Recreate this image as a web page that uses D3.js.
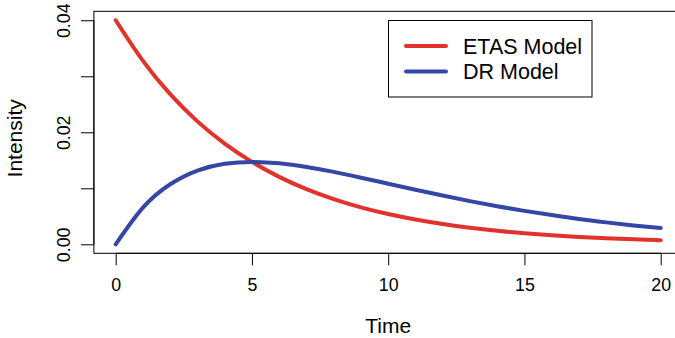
<!DOCTYPE html>
<html>
<head>
<meta charset="utf-8">
<script src="https://cdn.jsdelivr.net/npm/d3@7"></script>
<style>
  html, body { margin: 0; padding: 0; background: #fff; }
  svg { display: block; font-family: "Liberation Sans", Arial, Helvetica, sans-serif; }
</style>
</head>
<body>
<svg id="chart" width="675" height="338"></svg>
<script>
// Time grid and model intensities
const time = [0, 1, 2, 3, 4, 5, 6, 7, 8, 9, 10, 11, 12, 13, 14, 15, 16, 17, 18, 19, 20];
const etas = [0.0400, 0.03275, 0.02681, 0.02195, 0.01797, 0.01472, 0.01205, 0.00986, 0.00808, 0.00661,
              0.00541, 0.00443, 0.00363, 0.00297, 0.00243, 0.00199, 0.00163, 0.00133, 0.00109, 0.00089, 0.00073];
const dr   = [0.0000, 0.00655, 0.01072, 0.01317, 0.01438, 0.01472, 0.01446, 0.01380, 0.01293, 0.01190,
              0.01082, 0.00975, 0.00871, 0.00772, 0.00680, 0.00597, 0.00522, 0.00452, 0.00392, 0.00338, 0.00292];
const seriesNames = ["ETAS Model", "DR Model"];
const seriesColors = ["#e1332b", "#3447a5"];
const xTicks = [0, 5, 10, 15, 20];
const yTicks = [0, 0.01, 0.02, 0.03, 0.04];
const yTickLabels = ["0.00", "", "0.02", "", "0.04"];

const svg = d3.select("#chart");

// Plot region with 4% padding on both axes
const x = d3.scaleLinear().domain([-0.8, 20.8]).range([93.9, 682.5]);
const y = d3.scaleLinear().domain([-0.0016, 0.0416]).range([253.3, 11.3]);

// Frame
svg.append("rect")
  .attr("x", x(-0.8)).attr("y", y(0.0416))
  .attr("width", x(20.8) - x(-0.8)).attr("height", y(-0.0016) - y(0.0416))
  .attr("fill", "none").attr("stroke", "#000").attr("stroke-width", 1);

// X axis
const xAxis = svg.append("g").attr("transform", `translate(0,${y(-0.0016)})`)
  .call(d3.axisBottom(x).tickValues(xTicks).tickSize(12).tickPadding(13).tickFormat(d3.format("d")));
xAxis.select(".domain").attr("d", `M${x(0)},0H${x(20)}`).attr("stroke", "#000");
xAxis.selectAll(".tick line").attr("stroke", "#000");
xAxis.selectAll(".tick text").attr("font-size", 17.8).attr("fill", "#000")
  .attr("font-family", "Liberation Sans, Arial, sans-serif");

// Y axis with labels running parallel to the axis
const yAxis = svg.append("g").attr("transform", `translate(${x(-0.8)},0)`)
  .call(d3.axisLeft(y).tickValues(yTicks).tickSize(13).tickFormat((d, i) => yTickLabels[i]));
yAxis.select(".domain").attr("d", `M0,${y(0)}V${y(0.04)}`).attr("stroke", "#000");
yAxis.selectAll(".tick line").attr("stroke", "#000");
yAxis.selectAll(".tick text")
  .attr("font-size", 17.8).attr("fill", "#000")
  .attr("font-family", "Liberation Sans, Arial, sans-serif")
  .attr("x", null).attr("dy", null)
  .attr("text-anchor", "middle")
  .attr("transform", "translate(-24,0) rotate(-90)");

// Axis titles
svg.append("text")
  .attr("x", (x(-0.8) + x(20.8)) / 2).attr("y", 333)
  .attr("text-anchor", "middle").attr("font-size", 21).attr("fill", "#000")
  .text("Time");
svg.append("text")
  .attr("transform", `translate(22,${(y(-0.0016) + y(0.0416)) / 2 + 6}) rotate(-90)`)
  .attr("text-anchor", "middle").attr("font-size", 21).attr("fill", "#000")
  .text("Intensity");

// Curves
const line = d3.line().x((d, i) => x(time[i])).y(d => y(d)).curve(d3.curveNatural);
[etas, dr].forEach((vals, k) => {
  svg.append("path")
    .attr("d", line(vals))
    .attr("fill", "none")
    .attr("stroke", seriesColors[k])
    .attr("stroke-width", 4)
    .attr("stroke-linecap", "round")
    .attr("stroke-linejoin", "round");
});

// Legend
const legend = svg.append("g");
legend.append("rect")
  .attr("x", 388.5).attr("y", 20.5).attr("width", 203.5).attr("height", 76.5)
  .attr("fill", "#fff").attr("stroke", "#000").attr("stroke-width", 1);
seriesNames.forEach((name, k) => {
  const ly = 46 + k * 25.5;
  legend.append("line")
    .attr("x1", 406).attr("x2", 446).attr("y1", ly).attr("y2", ly)
    .attr("stroke", seriesColors[k]).attr("stroke-width", 4).attr("stroke-linecap", "round");
  legend.append("text")
    .attr("x", 463).attr("y", ly + 7.7)
    .attr("font-size", 21.5).attr("fill", "#000")
    .text(name);
});
</script>
</body>
</html>
